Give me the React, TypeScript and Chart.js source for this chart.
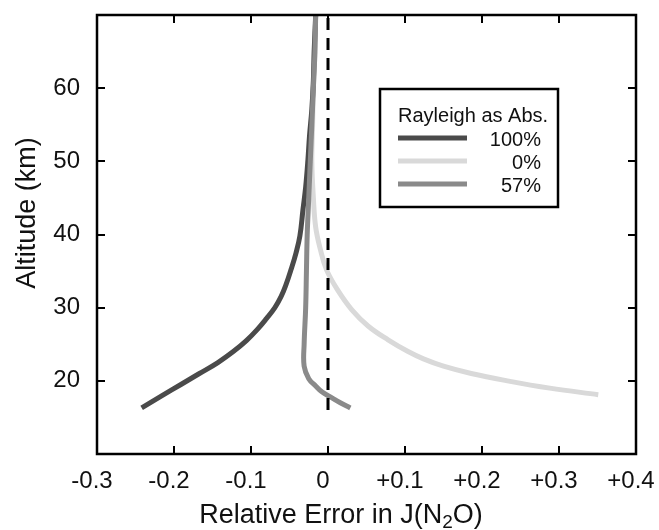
import React, { useEffect, useRef } from 'react';
import { Chart, registerables } from 'chart.js';

Chart.register(...registerables);

// ---- Data ----
const legendTitle = 'Rayleigh as Abs.';
const seriesLabels = ['100%', '0%', '57%'];
const seriesColors = ['#4a4a4a', '#d9d9d9', '#8a8a8a'];

// 100% Rayleigh as absorption
const alt100 = [16.3, 18, 19.5, 21, 22.5, 24, 25.5, 27, 28.5, 30, 31.5, 33, 35.2, 37.5, 39.8, 43.4, 46.5, 50.3, 53.5, 57.1, 61, 65, 70];
const err100 = [-0.242, -0.215, -0.191, -0.167, -0.143, -0.123, -0.106, -0.092, -0.080, -0.069, -0.061, -0.055, -0.048, -0.0415, -0.0365, -0.0325, -0.029, -0.026, -0.024, -0.021, -0.019, -0.018, -0.016];

// 0% Rayleigh as absorption
const alt0 = [18.1, 19, 20, 21, 22, 23, 24, 25.6, 27.5, 29.7, 32.5, 35.2, 38, 41, 45, 50, 55, 60, 65, 70];
const err0 = [0.351, 0.288, 0.233, 0.186, 0.150, 0.124, 0.104, 0.078, 0.052, 0.031, 0.012, -0.002, -0.010, -0.016, -0.019, -0.021, -0.020, -0.019, -0.017, -0.016];

// 57% Rayleigh as absorption
const alt57 = [16.3, 17, 17.8, 18.5, 19.3, 20.3, 22, 25, 30, 35, 40, 45, 50, 55, 60, 65, 70];
const err57 = [0.029, 0.016, 0.003, -0.008, -0.016, -0.025, -0.031, -0.031, -0.029, -0.028, -0.027, -0.025, -0.023, -0.021, -0.019, -0.017, -0.016];

// dashed zero reference line
const zeroAlt = [16, 70];
const zeroErr = [0, 0];

const xMin = -0.3;
const xMax = 0.4;
const xStep = 0.1;
const yMin = 10;
const yMax = 70;
const yStep = 10;

const yTitle = 'Altitude (km)';
const xTitleParts = ['Relative Error in J(N', '2', 'O)'];

const FONT = '"Liberation Sans", Arial, Helvetica, sans-serif';

const toPoints = (xs: number[], ys: number[]) => xs.map((v, i) => ({ x: v, y: ys[i] }));

const decorPlugin = {
  id: 'decor',
  afterDraw(chart: any) {
    const { ctx, chartArea: a, scales } = chart;
    const xs = scales.x;
    const ys = scales.y;
    ctx.save();
    // frame
    ctx.strokeStyle = '#000';
    ctx.lineWidth = 2.5;
    ctx.strokeRect(a.left, a.top, a.right - a.left, a.bottom - a.top);
    // inward ticks on all sides
    ctx.lineWidth = 2;
    const tl = 8;
    const seg = (x1: number, y1: number, x2: number, y2: number) => {
      ctx.beginPath();
      ctx.moveTo(x1, y1);
      ctx.lineTo(x2, y2);
      ctx.stroke();
    };
    xs.ticks.forEach((t: any) => {
      const v = t.value;
      if (v <= xMin + 1e-9 || v >= xMax - 1e-9) return;
      const px = Math.round(xs.getPixelForValue(v));
      seg(px, a.bottom, px, a.bottom - tl);
      seg(px, a.top, px, a.top + tl);
    });
    ys.ticks.forEach((t: any) => {
      const v = t.value;
      if (v <= yMin + 1e-9 || v >= yMax - 1e-9) return;
      const py = Math.round(ys.getPixelForValue(v));
      seg(a.left, py, a.left + tl, py);
      seg(a.right, py, a.right - tl, py);
    });

    // legend box
    const bx = 380, by = 89, bw = 178, bh = 118;
    ctx.fillStyle = '#fff';
    ctx.fillRect(bx, by, bw, bh);
    ctx.lineWidth = 2.5;
    ctx.strokeStyle = '#000';
    ctx.strokeRect(bx, by, bw, bh);
    ctx.fillStyle = '#111';
    ctx.font = `20px ${FONT}`;
    ctx.textBaseline = 'middle';
    ctx.textAlign = 'left';
    ctx.fillText(legendTitle, 398, 116);
    const ds = chart.data.datasets;
    for (let i = 0; i < seriesLabels.length; i++) {
      const yy = 138 + i * 23;
      ctx.strokeStyle = ds[i].borderColor;
      ctx.lineWidth = 5;
      seg(398, yy, 467, yy);
      ctx.textAlign = 'right';
      ctx.fillText(seriesLabels[i], 541, yy + 2);
    }

    // y title
    ctx.fillStyle = '#111';
    ctx.font = `27px ${FONT}`;
    ctx.save();
    ctx.translate(28, 213);
    ctx.rotate(-Math.PI / 2);
    ctx.textAlign = 'center';
    ctx.textBaseline = 'middle';
    ctx.fillText(yTitle, 0, 0);
    ctx.restore();

    // x title with subscript
    const big = `27px ${FONT}`;
    const small = `19px ${FONT}`;
    ctx.textBaseline = 'alphabetic';
    ctx.textAlign = 'left';
    ctx.font = big;
    const w1 = ctx.measureText(xTitleParts[0]).width;
    const w3 = ctx.measureText(xTitleParts[2]).width;
    ctx.font = small;
    const w2 = ctx.measureText(xTitleParts[1]).width;
    const total = w1 + w2 + w3;
    let x0 = 341 - total / 2;
    const base = 523;
    ctx.font = big;
    ctx.fillText(xTitleParts[0], x0, base);
    x0 += w1;
    ctx.font = small;
    ctx.fillText(xTitleParts[1], x0, base + 5);
    x0 += w2;
    ctx.font = big;
    ctx.fillText(xTitleParts[2], x0, base);
    ctx.restore();
  },
};

const lineDs = (i: number, xs: number[], ys: number[], order: number) => ({
  label: seriesLabels[i],
  data: toPoints(xs, ys),
  borderColor: seriesColors[i],
  backgroundColor: seriesColors[i],
  borderWidth: 5,
  showLine: true,
  pointRadius: 0,
  tension: 0.4,
  order,
});

export default function App() {
  const ref = useRef<HTMLCanvasElement | null>(null);
  useEffect(() => {
    if (!ref.current) return;
    const chart = new Chart(ref.current, {
      type: 'scatter',
      data: {
        datasets: [
          lineDs(0, err100, alt100, 1),
          lineDs(1, err0, alt0, 2),
          lineDs(2, err57, alt57, 0),
          {
            label: 'zero',
            data: toPoints(zeroErr, zeroAlt),
            borderColor: '#000',
            backgroundColor: '#000',
            borderWidth: 3,
            borderDash: [12, 8],
            showLine: true,
            pointRadius: 0,
            order: -1,
          } as any,
        ],
      },
      options: {
        responsive: false,
        animation: false,
        layout: { padding: { left: 0, top: 15, right: 23, bottom: 0 } },
        plugins: {
          legend: { display: false },
          tooltip: { enabled: false },
          title: { display: false },
        },
        scales: {
          x: {
            type: 'linear',
            position: 'bottom',
            min: xMin,
            max: xMax,
            grid: { display: false, drawTicks: false, tickLength: 0 },
            border: { display: false },
            ticks: {
              stepSize: xStep,
              padding: 13,
              labelOffset: -5,
              color: '#111',
              font: { family: FONT, size: 24 },
              maxRotation: 0,
              callback: (value: any) => {
                const v = Math.round(Number(value) * 10) / 10;
                if (v === 0) return '0';
                return (v > 0 ? '+' : '') + v.toFixed(1);
              },
            },
            afterFit: (s: any) => {
              s.height = 76;
              s.paddingLeft = 0;
              s.paddingRight = 0;
            },
          },
          y: {
            type: 'linear',
            position: 'left',
            min: yMin,
            max: yMax,
            grid: { display: false, drawTicks: false, tickLength: 0 },
            border: { display: false },
            ticks: {
              stepSize: yStep,
              padding: 17,
              color: '#111',
              font: { family: FONT, size: 24 },
              callback: (value: any) => {
                const v = Number(value);
                if (v <= yMin || v >= yMax) return '';
                return String(v);
              },
            },
            afterFit: (s: any) => {
              s.width = 97;
              s.paddingTop = 0;
              s.paddingBottom = 0;
            },
          },
        },
      } as any,
      plugins: [decorPlugin],
    });
    return () => chart.destroy();
  }, []);
  return (
    <div style={{ position: 'absolute', left: 0, top: 0, width: 659, height: 530, background: '#fff' }}>
      <canvas ref={ref} width={659} height={530} style={{ width: 659, height: 530, display: 'block' }} />
    </div>
  );
}
